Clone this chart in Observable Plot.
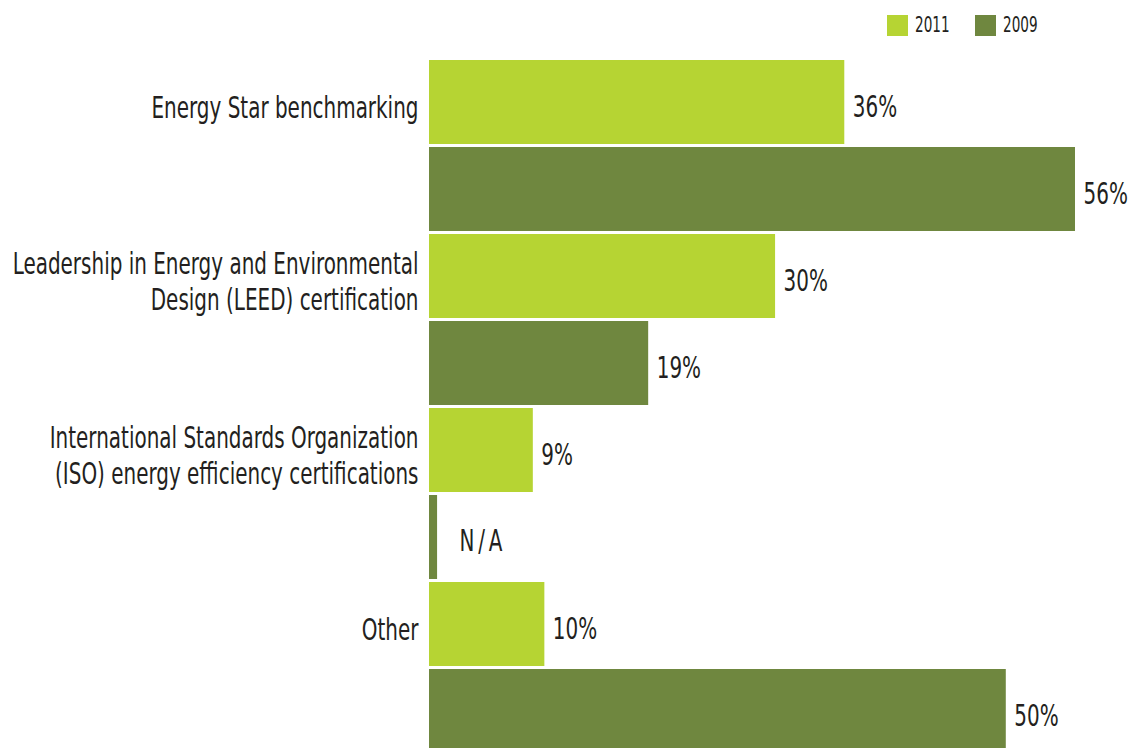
<!DOCTYPE html>
<html>
<head>
<meta charset="utf-8">
<script src="https://cdn.jsdelivr.net/npm/d3@7"></script>
<script src="https://cdn.jsdelivr.net/npm/@observablehq/plot@0.6"></script>
<style>
  html, body { margin: 0; padding: 0; background: #fff; overflow: hidden; }
  body { width: 1134px; height: 748px; position: relative; font-family: "DejaVu Sans Condensed", "DejaVu Sans", sans-serif; }
  #chart { position: absolute; top: 0; left: 0; z-index: 1; }
  #legend { position: absolute; top: 13px; left: 887px; display: flex; align-items: center; font-size: 21px; color: #231f20; z-index: 2; }
  .item { display: flex; align-items: center; width: 88px; }
  .sw { width: 21px; height: 21px; margin-right: 7px; flex: none; }
  .lab { display: inline-block; transform: scaleX(0.72); transform-origin: left center; }
</style>
</head>
<body>
<div id="chart"></div>
<div id="legend"></div>
<script>
const categories = [
  "Energy Star benchmarking",
  "Leadership in Energy and Environmental\nDesign (LEED) certification",
  "International Standards Organization\n(ISO) energy efficiency certifications",
  "Other"
];
const years = ["2011", "2009"];
const values2011 = [36, 30, 9, 10];
const values2009 = [56, 19, null, 50];
const naStubLength = 0.7; // width drawn for the N/A bar
const colors = ["#b6d433", "#6f873f"];

const rows = [];
categories.forEach((c, i) => {
  rows.push({key: i + "-2011", category: c, year: "2011", value: values2011[i]});
  rows.push({key: i + "-2009", category: c, year: "2009", value: values2009[i]});
});
const barLen = d => d.value == null ? naStubLength : d.value;

const font = '"DejaVu Sans Condensed", "DejaVu Sans", sans-serif';
const chart = Plot.plot({
  width: 1134,
  height: 754,
  marginLeft: 429,
  marginRight: 59,
  marginTop: 59,
  marginBottom: 0,
  style: {fontFamily: font, background: "#fff", color: "#231f20"},
  x: {domain: [0, 56], axis: null},
  y: {type: "band", domain: rows.map(d => d.key), paddingInner: 0.04, paddingOuter: 0, axis: null},
  color: {domain: years, range: colors},
  marks: [
    Plot.barX(rows, {x: barLen, y: "key", fill: "year"}),
    Plot.text(rows.filter(d => d.value != null), {
      x: barLen, y: "key", text: d => d.value + "%",
      textAnchor: "start", dx: 8, dy: 5, fontSize: 30, fill: "#231f20"
    }),
    Plot.text(rows.filter(d => d.value == null), {
      x: barLen, y: "key", text: () => "N/A",
      textAnchor: "start", dx: 22, dy: 4, fontSize: 30, fill: "#231f20",
      className: "na-label"
    }),
    Plot.text(rows.filter(d => d.year === "2011"), {
      x: 0, y: "key", text: "category",
      textAnchor: "end", dx: -11, dy: 4, lineHeight: 1.2, fontSize: 30, fill: "#231f20"
    })
  ]
});
// condense the glyphs horizontally (the reference uses a narrow typeface)
d3.select(chart).selectAll("text").each(function() {
  const t = this.getAttribute("transform") || "";
  this.setAttribute("transform", t + " scale(0.74,1)");
});
d3.select(chart).selectAll(".na-label text").style("letter-spacing", "5px");
document.getElementById("chart").appendChild(chart);

const legend = document.getElementById("legend");
years.forEach((y, i) => {
  const item = document.createElement("div");
  item.className = "item";
  const sw = document.createElement("div");
  sw.className = "sw";
  sw.style.background = colors[i];
  const t = document.createElement("span");
  t.className = "lab";
  t.textContent = y;
  item.appendChild(sw);
  item.appendChild(t);
  legend.appendChild(item);
});
</script>
</body>
</html>
